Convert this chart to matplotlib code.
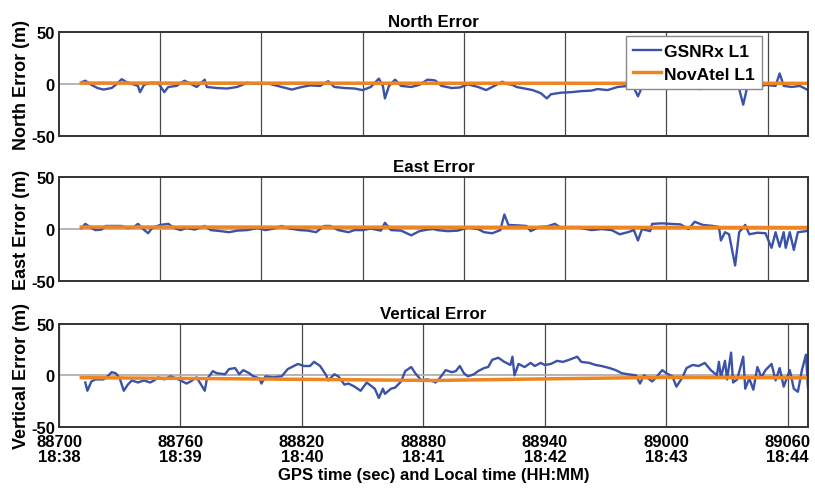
import numpy as np
import matplotlib
matplotlib.use("Agg")
import matplotlib.pyplot as plt

#########################################################
# data (GPS seconds, metres)
#########################################################
north_t = [88711, 88713, 88716, 88719, 88722, 88726, 88728, 88731, 88733, 88736,
           88739, 88740, 88742, 88745, 88749, 88752, 88754, 88758, 88762, 88765,
           88768, 88772, 88773, 88778, 88783, 88788, 88793, 88798, 88803, 88808,
           88815, 88820, 88824, 88829, 88833, 88836, 88841, 88846, 88850, 88854,
           88858, 88860, 88861, 88863, 88866, 88869, 88874, 88878, 88882, 88885,
           88886, 88889, 88894, 88898, 88902, 88907, 88911, 88915, 88919, 88921,
           88924, 88926, 88930, 88934, 88938, 88941, 88943, 88948, 88953, 88958,
           88963, 88966, 88971, 88976, 88981, 88984, 88986, 88988, 88993, 88998,
           89002, 89007, 89012, 89017, 89022, 89027, 89033, 89036, 89038, 89040,
           89044, 89049, 89054, 89056, 89058, 89062, 89066, 89070]
north_gsnrx = [1.5, 3, -1, -4, -5.5, -4, -1, 4.5, 2, 0,
               -2, -8, -1, 1, 1, -8, -3, -2, 3, 0,
               -3, 4, -3, -4, -4.5, -3, 1, 0, 0.5, -2,
               -5.5, -3, -1.5, -2, 2.5, -3, -4, -4.5, -6, -3,
               5, -2, -14, -2, 4, -2, -3, -1, 4, 3.5,
               3, -2, -4, -3.5, -0.5, -3, -6, -2, 2, 0,
               -1, -3, -4.5, -6, -9, -14, -10, -8.5, -8, -7,
               -6.5, -5, -6, -3, -2, -4, -12, -3, -2.5, -4,
               -3, -4.5, -3, -5, -3, -4, -3, -5, -20, -3,
               -4, -1, -2, 10, -2, -3, -2, -6]

east_t = [88711, 88713, 88716, 88718, 88721, 88723, 88727, 88731, 88734, 88737,
          88739, 88741, 88744, 88746, 88750, 88754, 88757, 88760, 88763, 88767,
          88772, 88775, 88780, 88784, 88788, 88793, 88798, 88802, 88806, 88810,
          88814, 88819, 88823, 88827, 88831, 88834, 88838, 88843, 88846, 88850,
          88854, 88859, 88861, 88864, 88869, 88874, 88878, 88882, 88885,
          88887, 88892, 88897, 88902, 88907, 88910, 88914, 88918, 88920, 88922,
          88927, 88931, 88933, 88937, 88941, 88945, 88948, 88953, 88958, 88963,
          88968, 88973, 88977, 88981, 88984, 88986, 88988, 88992, 88993, 88998,
          89002, 89007, 89011, 89014, 89018, 89023, 89026, 89027, 89029, 89031,
          89034, 89036, 89039, 89041, 89045, 89049, 89052, 89054, 89056, 89058,
          89059, 89061, 89063, 89065, 89069]
east_gsnrx = [1, 5, 1, -1, -0.5, 3, 3, 3, 1, 2,
              5, 1, -4, 1, 4, 5, 1, -1, 1, -0.5,
              3, -1, -2, -3, -1.5, -1, 1, -1, 0.5, 3,
              0.5, -1, -1.5, -3, 3, 3, -1, -3, -1, -1,
              0.5, -1.5, 6, -1, -1.5, -6, -2, -0.5, 0,
              -1, -2, -1.5, 1.5, 0, -3, -4, -1, 14, 4,
              3.5, 3, -2, 2, 2.5, 5, 1, 2, 1, -1,
              0, -1, -5, -3, -1, -11, 0, -2, 5, 5.5,
              5, 4.5, 0, 7, 4, 3, 2, -11, -3, -5,
              -35, -3, 4, -5, -3.5, -4, -18, -3, -17, -3,
              -18, -3, -20, -3, -2]

vert_t = [88713, 88714, 88716, 88718, 88722, 88724, 88726, 88728, 88730, 88732,
          88734, 88736, 88739, 88742, 88745, 88747, 88749, 88752, 88755, 88758,
          88760, 88763, 88765, 88768, 88772, 88773, 88776, 88778, 88782, 88784,
          88787, 88789, 88791, 88794, 88796, 88799, 88800, 88802, 88806, 88810,
          88813, 88816, 88818, 88821, 88824, 88826, 88829, 88832, 88833, 88836,
          88838, 88841, 88843, 88846, 88849, 88852, 88856, 88858, 88860, 88861,
          88864, 88866, 88869, 88871, 88874, 88876, 88879, 88882, 88885,
          88886, 88888, 88891, 88894, 88896, 88898, 88900, 88902, 88905, 88907,
          88910, 88912, 88914, 88917, 88920, 88923, 88924, 88925, 88927, 88930,
          88933, 88935, 88938, 88940, 88943, 88946, 88949, 88952, 88956, 88958,
          88962, 88965, 88968, 88972, 88975, 88978, 88981, 88985, 88987, 88989,
          88993, 88995, 88998, 89000, 89003, 89005, 89008, 89010, 89013, 89016,
          89019, 89022, 89025, 89026, 89027, 89029, 89030, 89032, 89033, 89035,
          89038, 89039, 89041, 89043, 89045, 89047, 89049, 89052, 89054, 89056,
          89058, 89061, 89063, 89065, 89067, 89069, 89070]
vert_gsnrx = [-7, -15, -6, -4, -4, -1, 3, 2, -3, -15,
              -9, -5, -7, -5, -7, -5, -2, -4, -1, -3,
              -5, -8, -6, -2, -15, -4, 4, 2, 1, 6,
              7, 1, 5, 2, -1, -3, -8, -1, -2, -1,
              6, 9, 11, 9, 9, 13, 9, 0, -5, 1,
              -1, -9, -8, -11, -15, -7, -13, -22, -13, -18,
              -13, -12, -6, 4, 8, 2, -5, -4, -6,
              -7, -3, 5, 3, 4, 9, 2, -1, 1, 4,
              7, 8, 15, 17, 13, 10, 18, 0, 11, 8,
              12, 9, 12, 10, 11, 14, 13, 15, 18, 13,
              12, 10, 9, 7, 5, 2, 1, 0, -8, 0,
              -6, -2, 5, 2, -1, -11, -2, 7, 10, 9,
              12, 5, 0, 13, -2, 14, -4, 22, -7, -4,
              18, -13, -3, -14, 8, -2, 5, 11, -5, 7,
              -11, 5, -13, -16, 5, 20, -12]

novatel_t = [88711, 88800, 88885, 88940, 89000, 89070]
north_novatel = [0.8, 0.7, 0.6, 0.6, 0.5, 0.5]
east_novatel = [2.0, 1.9, 1.8, 1.7, 1.6, 1.5]
vert_novatel = [-2.3, -3.6, -5.0, -3.5, -2.0, -2.5]

bottom_ticks = [88700, 88760, 88820, 88880, 88940, 89000, 89060]
bottom_labels = ["88700\n18:38", "88760\n18:39", "88820\n18:40", "88880\n18:41",
                 "88940\n18:42", "89000\n18:43", "89060\n18:44"]
top_ticks = [88750, 88800, 88850, 88900, 88950, 89000, 89050]

#########################################################
# plot
#########################################################
plt.rcParams["font.family"] = "Liberation Sans"
plt.rcParams["font.weight"] = "bold"
plt.rcParams["axes.labelweight"] = "bold"
plt.rcParams["axes.titleweight"] = "bold"
plt.rcParams["axes.unicode_minus"] = False

blue = "#3A52A8"
orange = "#EE8522"

fig = plt.figure(figsize=(8.15, 4.89), dpi=100)
rects = [[0.0724, 0.720, 0.919, 0.213],
         [0.0724, 0.423, 0.919, 0.213],
         [0.0724, 0.125, 0.919, 0.211]]
panels = [("North Error", "North Error (m)", north_t, north_gsnrx, north_novatel),
          ("East Error", "East Error (m)", east_t, east_gsnrx, east_novatel),
          ("Vertical Error", "Vertical Error (m)", vert_t, vert_gsnrx, vert_novatel)]

for i, (title, ylab, t, g, n) in enumerate(panels):
    ax = fig.add_axes(rects[i])
    ax.plot(t, g, color=blue, lw=1.7, label="GSNRx L1")
    ax.plot(novatel_t, n, color=orange, lw=2.5, label="NovAtel L1")
    ax.set_xlim(88700, 89070)
    ax.set_ylim(-50, 50)
    ax.set_yticks([-50, 0, 50])
    if i == 2:
        ax.set_xticks(bottom_ticks)
        ax.set_xticklabels(bottom_labels, linespacing=1.0)
        ax.tick_params(axis="x", pad=5)
        ax.set_xlabel("GPS time (sec) and Local time (HH:MM)", fontsize=12, labelpad=2)
    else:
        ax.set_xticks(top_ticks)
        ax.set_xticklabels([])
    ax.xaxis.grid(True, color="#4a4a4a", lw=0.9)
    ax.yaxis.grid(True, color="#b0b0b0", lw=1.3)
    ax.set_axisbelow(True)
    ax.tick_params(axis="both", length=0, labelsize=12)
    ax.tick_params(axis="y", pad=3)
    ax.set_title(title, fontsize=12.2, pad=4)
    ax.set_ylabel(ylab, fontsize=13, labelpad=1)
    for s in ax.spines.values():
        s.set_color("#333333")
        s.set_linewidth(1.4)
    if i == 0:
        leg = ax.legend(loc="upper right", bbox_to_anchor=(0.939, 0.955),
                        fontsize=12.5, fancybox=False, framealpha=1,
                        edgecolor="#888888", handlelength=1.6,
                        handletextpad=0.15, borderpad=0.45, labelspacing=0.4,
                        borderaxespad=0)
        leg.get_frame().set_linewidth(1.0)

fig.savefig("out.png", dpi=100)
